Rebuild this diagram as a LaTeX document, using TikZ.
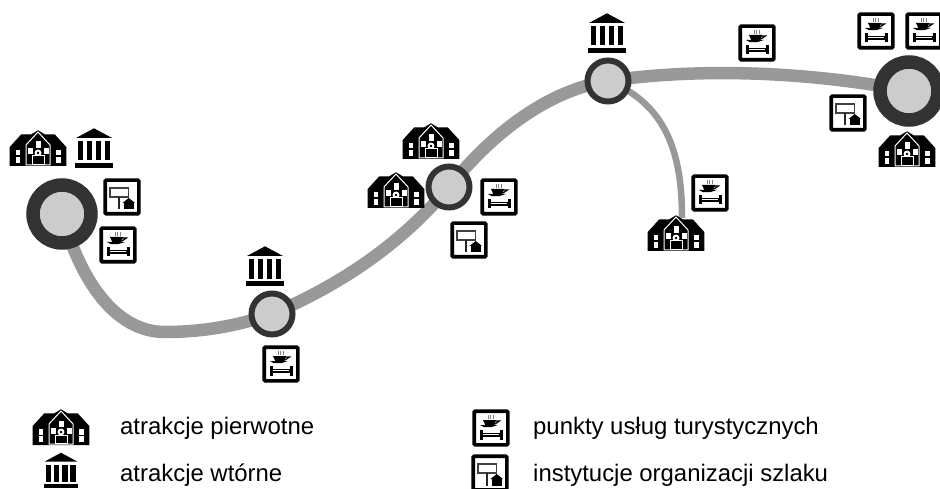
\documentclass[tikz,border=0pt]{standalone}
\usepackage{fontspec}
\setmainfont{Liberation Sans}
\usetikzlibrary{backgrounds}

\definecolor{ringgray}{HTML}{333333}
\definecolor{coregray}{HTML}{CCCCCC}
\definecolor{routegray}{HTML}{999999}

\tikzset{
  stopbig/.style={circle,draw=ringgray,fill=coregray,line width=13.5pt,minimum size=58pt,inner sep=0pt},
  stopsmall/.style={circle,draw=ringgray,fill=coregray,line width=6pt,minimum size=41pt,inner sep=0pt},
  route/.style={routegray,line width=12.5pt},
  branch/.style={routegray,line width=6.5pt},
  legendtext/.style={anchor=base west,inner sep=0pt,font=\fontsize{23.9}{26}\selectfont},
  attraction/.pic={
    \fill[black] (-28.3,18) -- (-28.3,-1) -- (-16.7,-13.7) -- (-6.7,-13.7) -- (0,-17.7)
      -- (6.7,-13.7) -- (16.7,-13.7) -- (28.3,-1) -- (28.3,18) -- cycle;
    \draw[white,line width=1pt] (-12,17) -- (-12,-3) -- (0,-16) -- (12,-3) -- (12,17) -- cycle;
    \foreach \wx in {-22.5,18} {
      \fill[white] (\wx,2) rectangle +(4.5,5.5);
      \fill[white] (\wx,9) rectangle +(4.5,6);
    }
    \fill[white] (-2.5,-6.5) rectangle (2.5,0);
    \fill[white] (-10.5,0.5) rectangle (-5.5,6.5);
    \fill[white] (5.5,0.5) rectangle (10.5,6.5);
    \fill[white] (0,5) circle (3.5);
    \fill[black] (0,5) circle (1.4);
    \draw[white,line width=1pt,fill=black] (-6,8) rectangle (6,16.5);
  },
  museum/.pic={
    \fill[black] (-18,-10) -- (0,-19.7) -- (18,-10) -- cycle;
    \foreach \cx in {-16.5,-7.5,1.5,10.5} {
      \fill[black] (\cx,-6.5) rectangle +(5.8,19);
    }
    \fill[black] (-19,14.7) rectangle (19,19.7);
  },
  service/.pic={
    \draw[black,fill=white,line width=3.6pt,rounded corners=1pt] (-16.8,-16.8) rectangle (16.8,16.8);
    \foreach \sx in {-3,-0.5,2} {
      \draw[gray,line width=0.6pt] (\sx,-13) -- (\sx,-9);
    }
    \fill[black] (-8,-8) -- (5,-8) -- (3.5,-3) -- (-5.5,-2.5) -- cycle;
    \draw[black,line width=1.2pt] (4,-7) -- (8.5,-7) -- (4,-4);
    \fill[black] (-11,-3) -- (7,-3) -- (0,-0.8) -- (-7,-0.8) -- cycle;
    \fill[black] (-11.5,2) rectangle (-8.5,11.5);
    \fill[black] (8.5,2) rectangle (11.5,11.5);
    \fill[black] (-9,4.7) rectangle (9,9.3);
    \fill[white] (-8,6.4) rectangle (8,7);
  },
  signpost/.pic={
    \draw[black,fill=white,line width=3.6pt,rounded corners=1pt] (-16.8,-16.8) rectangle (16.8,16.8);
    \draw[black!75,fill=white,line width=1.1pt] (-12,-9) rectangle (6.5,0);
    \fill[black!85] (-4,0) rectangle (-2,12.5);
    \fill[black] (2,12.5) rectangle (11.5,5.5);
    \fill[black] (0.5,6) -- (6.8,1) -- (13,6) -- cycle;
  }
}

\begin{document}
\begin{tikzpicture}[x=1pt,y=-1pt]
\useasboundingbox (0,0) rectangle (940,489);

\node[stopbig]   (stop1) at (62,214) {};
\node[stopsmall] (stop2) at (272,314) {};
\node[stopsmall] (stop3) at (449,187) {};
\node[stopsmall] (stop4) at (608,81) {};
\node[stopbig]   (stop5) at (909,91) {};
\coordinate (routebend) at (165,332);
\coordinate (branchend) at (682,218);

\begin{scope}[on background layer]
\draw[route] (stop1.center) .. controls (80,280) and (115,332) .. (routebend)
  .. controls (205,332) and (240,325) .. (stop2.center);
\draw[route] (stop2.center) .. controls (340,285) and (400,245) .. (stop3.center);
\draw[route] (stop3.center) .. controls (495,130) and (550,90) .. (stop4.center);
\draw[route] (stop4.center) .. controls (680,70) and (790,68) .. (stop5.center);
\draw[branch] (stop4.center) .. controls (670,105) and (682,160) .. (branchend);
\end{scope}

% stop 1
\pic (attr1) at (38,148) {attraction};
\pic (mus1) at (94,148) {museum};
\pic (sign1) at (122,197) {signpost};
\pic (serv1) at (118,245) {service};
% stop 2
\pic (mus2) at (265,266) {museum};
\pic (serv2) at (281,364) {service};
% stop 3
\pic (attr3a) at (431,141) {attraction};
\pic (attr3b) at (396,190) {attraction};
\pic (serv3) at (499,197) {service};
\pic (sign3) at (469,240) {signpost};
% stop 4
\pic (mus4) at (607,33) {museum};
\pic (serv4) at (757,43) {service};
\pic (serv4b) at (710,193) {service};
\pic (attr4) at (676,233) {attraction};
% stop 5
\pic (serv5a) at (876,31) {service};
\pic (serv5b) at (924,31) {service};
\pic (sign5) at (848,113) {signpost};
\pic (attr5) at (907,149) {attraction};

% legend
\pic (keyattr) at (61,427) {attraction};
\pic[scale=0.9] (keymus) at (61,470.5) {museum};
\pic (keyserv) at (491,428) {service};
\pic (keysign) at (490,473) {signpost};
\node[legendtext] (lab1) at (120,434.5) {atrakcje pierwotne};
\node[legendtext] (lab2) at (120,481.5) {atrakcje wtórne};
\node[legendtext] (lab3) at (533,434.5) {punkty usług turystycznych};
\node[legendtext] (lab4) at (533,481.5) {instytucje organizacji szlaku};

\end{tikzpicture}
\end{document}
